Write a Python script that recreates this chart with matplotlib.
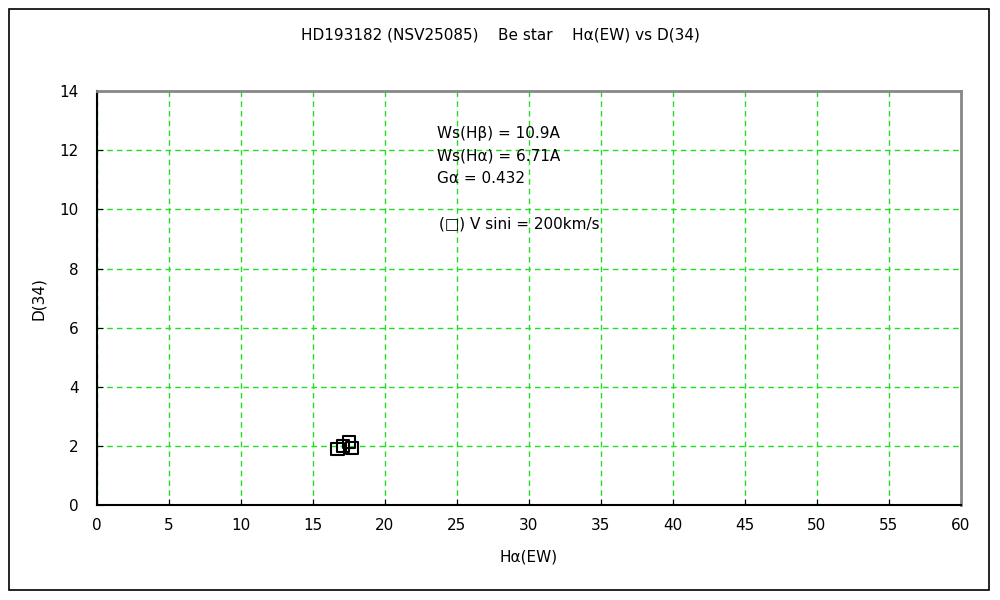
import matplotlib
matplotlib.use("Agg")
import matplotlib.pyplot as plt
from matplotlib.patches import Rectangle

ew_halpha = [16.7, 17.1, 17.5, 17.7]
d34 = [1.90, 2.00, 2.13, 1.93]
x_ticks = list(range(0, 61, 5))
y_ticks = list(range(0, 15, 2))

plt.rcParams['font.family'] = ['DejaVu Sans']

fig = plt.figure(figsize=(10, 6), dpi=100)
fig.patch.set_facecolor('white')
ax = fig.add_axes([0.097, 0.158, 0.864, 0.69])

ax.scatter(ew_halpha, d34, marker='s', s=80, facecolors='none', edgecolors='black', linewidths=1.5, zorder=3)

ax.set_xlim(0, 60)
ax.set_ylim(0, 14)
ax.set_xticks(x_ticks)
ax.set_yticks(y_ticks)
ax.tick_params(direction='in', length=4, labelsize=11)
ax.tick_params(axis='x', pad=9)
ax.tick_params(axis='y', pad=13)
ax.grid(True, color='#22dd22', linestyle=(0, (4, 3)), linewidth=1)
for s in ['top', 'right']:
    ax.spines[s].set_color('#888888')
    ax.spines[s].set_linewidth(2)
for s in ['left', 'bottom']:
    ax.spines[s].set_color('black')
    ax.spines[s].set_linewidth(1.5)

ax.set_xlabel('H\u03b1(EW)', fontsize=11, labelpad=12)
ax.set_ylabel('D(34)', fontsize=11, labelpad=10)
fig.text(0.5, 0.942, 'HD193182 (NSV25085)    Be star    H\u03b1(EW) vs D(34)', ha='center', va='center', fontsize=11)

fig.text(0.437, 0.778, 'Ws(H\u03b2) = 10.9A', ha='left', va='center', fontsize=11)
fig.text(0.437, 0.740, 'Ws(H\u03b1) = 6.71A', ha='left', va='center', fontsize=11)
fig.text(0.437, 0.702, 'G\u03b1 = 0.432', ha='left', va='center', fontsize=11)
fig.text(0.439, 0.627, '(\u25a1) V sini = 200km/s', ha='left', va='center', fontsize=11)

fig.add_artist(Rectangle((0.009, 0.017), 0.980, 0.968, transform=fig.transFigure, fill=False, edgecolor='black', linewidth=1.2))

fig.savefig('out.png', dpi=100, facecolor='white')
